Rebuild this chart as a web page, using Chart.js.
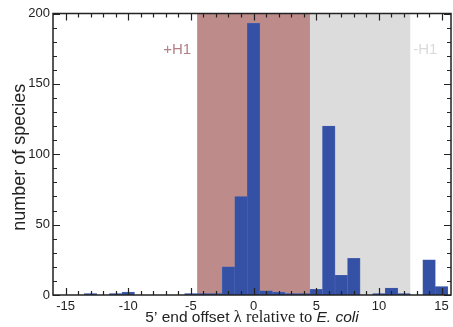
<!DOCTYPE html>
<html>
<head>
<meta charset="utf-8">
<script src="https://cdn.jsdelivr.net/npm/chart.js@4"></script>
<style>
  html, body { margin: 0; padding: 0; background: #fff; }
  #wrap { width: 453px; height: 327px; }
</style>
</head>
<body>
<div id="wrap"><canvas id="hist"></canvas></div>
<script>
// 5' end offset (bin centres) and species counts
const offsets = [-15, -14, -13, -12, -11, -10, -9, -8, -7, -6, -5, -4, -3, -2, -1, 0,
                 1, 2, 3, 4, 5, 6, 7, 8, 9, 10, 11, 12, 13, 14, 15];
const counts = [0, 0, 1, 0, 1, 2, 0, 0, 0, 0, 1, 1, 1, 20, 70, 193,
                3, 2, 1, 1, 4, 120, 14, 26, 0, 1, 5, 1, 0, 25, 6];

const xTicks = [-15, -10, -5, 0, 5, 10, 15];
const yTicks = [0, 50, 100, 150, 200];

// shaded ranges
const plusH1 = [-4.5, 4.5];
const minusH1 = [4.5, 12.5];

const SANS = "'Liberation Sans', Arial, sans-serif";
const SERIF = "'Liberation Serif', 'Times New Roman', serif";

const frame = {
  id: "frame",
  beforeDatasetsDraw(chart) {
    const { ctx, chartArea: a, scales: { x } } = chart;
    ctx.save();
    ctx.fillStyle = "#bc8b8a";
    ctx.fillRect(x.getPixelForValue(plusH1[0]), a.top,
      x.getPixelForValue(plusH1[1]) - x.getPixelForValue(plusH1[0]), a.height);
    ctx.fillStyle = "#dcdcdc";
    ctx.fillRect(x.getPixelForValue(minusH1[0]), a.top,
      x.getPixelForValue(minusH1[1]) - x.getPixelForValue(minusH1[0]), a.height);
    ctx.restore();
  },
  afterDatasetsDraw(chart) {
    const { ctx, chartArea: a, scales: { x, y } } = chart;
    ctx.save();

    // band labels
    ctx.font = "15px " + SANS;
    ctx.textBaseline = "alphabetic";
    const ly = y.getPixelForValue(175) + 5;
    ctx.fillStyle = "#b27f87";
    ctx.textAlign = "right";
    ctx.fillText("+H1", x.getPixelForValue(plusH1[0]) - 6, ly);
    ctx.fillStyle = "#dadada";
    ctx.textAlign = "left";
    ctx.fillText("-H1", x.getPixelForValue(minusH1[1]) + 3, ly);

    // inward ticks on all four sides
    ctx.strokeStyle = "#222";
    ctx.lineWidth = 1.2;
    ctx.beginPath();
    for (let v = -15; v <= 15; v++) {
      const px = Math.round(x.getPixelForValue(v)) + 0.5;
      const len = v % 5 === 0 ? 7 : 4;
      ctx.moveTo(px, a.bottom); ctx.lineTo(px, a.bottom - len);
      ctx.moveTo(px, a.top); ctx.lineTo(px, a.top + len);
    }
    for (let v = 0; v <= 200; v += 10) {
      const py = Math.round(y.getPixelForValue(v)) + 0.5;
      const len = v % 50 === 0 ? 7 : 4;
      ctx.moveTo(a.left, py); ctx.lineTo(a.left + len, py);
      ctx.moveTo(a.right, py); ctx.lineTo(a.right - len, py);
    }
    ctx.stroke();
    ctx.lineWidth = 1.5;
    ctx.strokeRect(a.left, a.top, a.width, a.height);

    // y title
    ctx.fillStyle = "#222";
    ctx.font = "18px " + SANS;
    ctx.textAlign = "center";
    ctx.translate(25, (a.top + a.bottom) / 2 + 3);
    ctx.rotate(-Math.PI / 2);
    ctx.fillText("number of species", 0, 0);
    ctx.setTransform(1, 0, 0, 1, 0, 0);

    // x title, mixed fonts
    const parts = [
      ["5\u2019 end offset ", "15.5px " + SANS],
      ["\u03bb relative to ", "16.5px " + SERIF],
      ["E. coli", "italic 15.5px " + SANS]
    ];
    let total = 0;
    parts.forEach(p => { ctx.font = p[1]; total += ctx.measureText(p[0]).width; });
    let cx = (a.left + a.right) / 2 - total / 2;
    ctx.textAlign = "left";
    parts.forEach(p => {
      ctx.font = p[1];
      ctx.fillText(p[0], cx, 321.5);
      cx += ctx.measureText(p[0]).width;
    });
    ctx.restore();
  }
};

new Chart(document.getElementById("hist"), {
  type: "bar",
  data: {
    datasets: [{
      data: offsets.map((o, i) => ({ x: o, y: counts[i] })),
      backgroundColor: "#3451a6",
      borderColor: "#4a66b4",
      borderWidth: 0.6,
      barPercentage: 1,
      categoryPercentage: 1
    }]
  },
  options: {
    responsive: true,
    maintainAspectRatio: false,
    animation: false,
    layout: { padding: { top: 13.5, right: 2, left: 0, bottom: 0 } },
    plugins: { legend: { display: false }, tooltip: { enabled: false } },
    scales: {
      x: {
        type: "linear",
        min: -16,
        max: 15.75,
        offset: false,
        grid: { display: false, drawTicks: false },
        border: { display: false },
        afterBuildTicks: s => { s.ticks = xTicks.map(v => ({ value: v })); },
        afterFit: s => { s.height = 32; },
        ticks: {
          padding: 4,
          maxRotation: 0,
          color: "#222",
          font: { family: SANS, size: 13 }
        }
      },
      y: {
        min: 0,
        max: 200,
        grid: { display: false, drawTicks: false },
        border: { display: false },
        afterBuildTicks: s => { s.ticks = yTicks.map(v => ({ value: v })); },
        afterFit: s => { s.width = 53; },
        ticks: {
          padding: 3,
          color: "#222",
          font: { family: SANS, size: 13 }
        }
      }
    }
  },
  plugins: [frame]
});
</script>
</body>
</html>
